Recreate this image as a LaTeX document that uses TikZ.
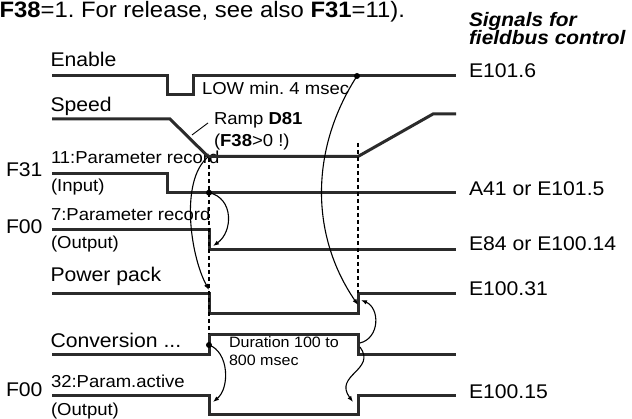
\documentclass[tikz,border=0pt]{standalone}
\usepackage{fontspec}
\setmainfont{Liberation Sans}[FakeStretch=1.07]
\usetikzlibrary{arrows.meta}
\definecolor{sigc}{HTML}{2B2B2B}
\frenchspacing
\begin{document}
\begin{tikzpicture}[x=1pt,y=-1pt,
  sig/.style={line width=3pt, draw=sigc, line join=miter, line cap=butt},
  dotv/.style={line width=1.8pt, draw=black, dash pattern=on 4pt off 3pt},
  conn/.style={line width=1.1pt, draw=black, -{Latex[length=6pt,width=4.5pt]}},
  lbl/.style={inner sep=0pt, outer sep=0pt, anchor=base west, text=black},
  main/.style={lbl, font=\fontsize{19.8}{23}\selectfont},
  sub/.style={lbl, font=\fontsize{17.3}{20}\selectfont},
  small/.style={lbl, font=\fontsize{15}{18}\selectfont},
  toptxt/.style={lbl, font=\fontsize{22.3}{25}\selectfont},
  head/.style={lbl, font=\fontsize{19.5}{23}\selectfont\bfseries\itshape},
  dot/.style={circle, fill=black, inner sep=0pt, minimum size=6pt}
]
\useasboundingbox (0,0) rectangle (632,419);

% ---------- texts ----------
\node[toptxt] (top) at (-0.5,17.3) {\textbf{F38}=1. For release, see also \textbf{F31}=11).};
\node[head] (sig1) at (469,27) {Signals for};
\node[head] (sig2) at (469,44.8) {fieldbus control};

\node[main] (enable) at (50.5,66.7) {Enable};
\node[main] (speed) at (50.5,111.7) {Speed};
\node[main] (f31) at (6,176.7) {F31};
\node[sub] (pr11) at (51,163.3) {11:Parameter record};
\node[sub] (inp) at (51,191.5) {(Input)};
\node[main] (f00a) at (6,233.3) {F00};
\node[sub] (pr7) at (51,220.7) {7:Parameter record};
\node[sub] (outa) at (51,248.3) {(Output)};
\node[main] (power) at (50.5,281.7) {Power pack};
\node[main] (conv) at (50.5,347.3) {Conversion ...};
\node[main] (f00b) at (6,396.7) {F00};
\node[sub] (pa32) at (51,387.3) {32:Param.active};
\node[sub] (outb) at (51,415.5) {(Output)};

\node[main] (e1016) at (469,77.7) {E101.6};
\node[main] (a41) at (469,196) {A41 or E101.5};
\node[main] (e84) at (469,250.7) {E84 or E100.14};
\node[main] (e10031) at (469,296) {E100.31};
\node[main] (e10015) at (469,398.3) {E100.15};

\node[sub] (low) at (202,95) {LOW min. 4 msec};
\node[sub] (ramp1) at (214,125) {Ramp \textbf{D81}};
\node[sub] (ramp2) at (214,147) {(\textbf{F38}>0 !)};
\node[small] (dur1) at (229,347.7) {Duration 100 to};
\node[small] (dur2) at (229,366) {800 msec};

% ---------- signals ----------
\draw[sig] (52,76) -- (167,76) -- (167,95) -- (193,95) -- (193,76) -- (456,76);
\draw[sig] (52,119) -- (170,119) -- (208,156.5) -- (358,156.5) -- (433,114) -- (456,114);
\draw[sig] (52,173.3) -- (167,173.3) -- (167,192.7) -- (456,192.7);
\draw[sig] (52,230) -- (209,230) -- (209,249.3) -- (456,249.3);
\draw[sig] (52,293.5) -- (209,293.5) -- (209,313.3) -- (358,313.3) -- (358,294) -- (456,294);
\draw[sig] (52,354.3) -- (209,354.3) -- (209,334.3) -- (358,334.3) -- (358,354.3) -- (456,354.3);
\draw[sig] (52,396) -- (209,396) -- (209,414.3) -- (358,414.3) -- (358,396) -- (456,396);

% ---------- dotted markers ----------
\coordinate (d1t) at (209,158);
\coordinate (d1b) at (209,334);
\coordinate (d2t) at (358,143);
\coordinate (d2b) at (358,293);
\draw[dotv] (d1t) -- (d1b);
\draw[dotv] (d2t) -- (d2b);

% ramp leader
\coordinate (rl1) at (208,123);
\coordinate (rl2) at (192,135);
\draw[line width=0.9pt, draw=black] (rl1) -- (rl2);

% ---------- dots ----------
\node[dot] (den) at (357,76) {};
\node[dot] (df31) at (209,192.7) {};
\node[dot] (dconv) at (209,345) {};

% ---------- connectors ----------
\coordinate (spd) at (208,157);
\coordinate (ppf) at (209,290);
\coordinate (f00f) at (213,246);
\coordinate (ppr) at (358,305);
\coordinate (f00bf) at (213,402);
\coordinate (cvf) at (360,343);
\coordinate (ppr2) at (361,300);
\coordinate (cvf2) at (360,347);
\coordinate (f00br) at (353,402);

\draw[conn] (den.center) .. controls (310,149) and (310,235) .. (ppr);
\draw[conn] (spd) .. controls (180,180) and (190,255) .. (ppf);
\draw[conn] (df31.center) .. controls (234,198) and (233,232) .. (f00f);
\draw[conn] (dconv.center) .. controls (229,352) and (230,388) .. (f00bf);
\draw[conn] (cvf) .. controls (380,338) and (380,308) .. (ppr2);
\draw[conn] (cvf2) .. controls (377,370) and (333,375) .. (f00br);
\end{tikzpicture}
\end{document}
